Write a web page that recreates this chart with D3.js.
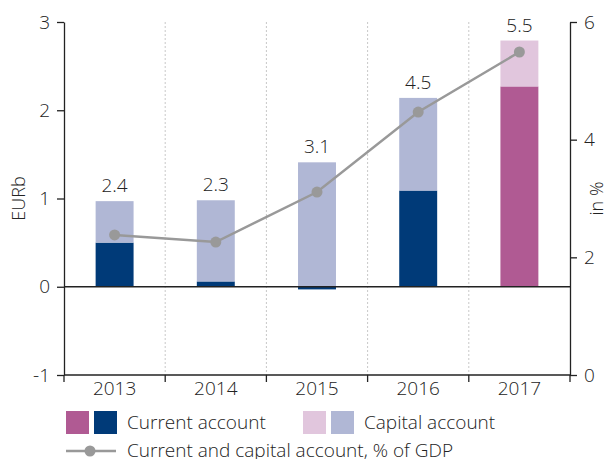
<!DOCTYPE html>
<html>
<head>
<meta charset="utf-8">
<script src="https://cdn.jsdelivr.net/npm/d3@7"></script>
<style>
  body { margin: 0; background: #fff; }
  text { font-family: "Open Sans", "Liberation Sans", Arial, sans-serif; font-weight: 300; fill: #222; }
</style>
</head>
<body>
<div id="chart"></div>
<script>
// data
var years = ["2013", "2014", "2015", "2016", "2017"];
var currentAccount = [0.50, 0.06, -0.03, 1.09, 2.27];
var capitalAccount = [0.47, 0.92, 1.41, 1.05, 0.52];
var pctOfGdp = [2.38, 2.26, 3.11, 4.47, 5.49];
var pctLabels = ["2.4", "2.3", "3.1", "4.5", "5.5"];
var leftTicks = [-1, 0, 1, 2, 3];
var rightTicks = [0, 2, 4, 6];

var width = 610, height = 459;
var margin = { top: 22, right: 40, bottom: 84, left: 64 };
var innerW = width - margin.left - margin.right,
    innerH = height - margin.top - margin.bottom;
var fs = "19px";

var svg = d3.select("#chart")
  .append("svg")
  .attr("width", width)
  .attr("height", height);

var g = svg.append("g")
  .attr("transform", "translate(" + margin.left + "," + margin.top + ")");

var x = d3.scaleBand().domain(years).range([0, innerW]);
var y = d3.scaleLinear().domain([-1, 3]).range([innerH, 0]);
var y2 = d3.scaleLinear().domain([0, 6]).range([innerH, 0]);

var barW = x.bandwidth() * 0.375;

// dotted separators between years
g.selectAll(".sep")
  .data(years.slice(1))
  .enter()
  .append("line")
  .attr("x1", function (d) { return x(d); })
  .attr("x2", function (d) { return x(d); })
  .attr("y1", 0)
  .attr("y2", innerH)
  .attr("stroke", "#c8c8c8")
  .attr("stroke-dasharray", "2,2");

// stacked bars (2017 uses the magenta / pink pair)
var rows = years.map(function (yr, i) {
  return { year: yr, cur: currentAccount[i], cap: capitalAccount[i] };
});
var series = d3.stack().keys(["cur", "cap"]).offset(d3.stackOffsetDiverging)(rows);

var colours = {
  cur: ["#003a78", "#b05a93"],
  cap: ["#b0b7d5", "#e1c6dd"]
};

series.forEach(function (s) {
  g.selectAll(".bar-" + s.key)
    .data(s)
    .enter()
    .append("rect")
    .attr("x", function (d) { return x(d.data.year) + (x.bandwidth() - barW) / 2; })
    .attr("width", barW)
    .attr("y", function (d) { return y(Math.max(d[0], d[1])); })
    .attr("height", function (d) { return Math.abs(y(d[0]) - y(d[1])); })
    .attr("fill", function (d) { return colours[s.key][d.data.year === "2017" ? 1 : 0]; });
});

// labels above bars
g.selectAll(".lbl")
  .data(rows)
  .enter()
  .append("text")
  .attr("x", function (d) { return x(d.year) + x.bandwidth() / 2; })
  .attr("y", function (d) { return y(Math.max(d.cur, 0) + d.cap) - 9; })
  .attr("text-anchor", "middle")
  .style("font-size", fs)
  .text(function (d, i) { return pctLabels[i]; });

// zero line
g.append("line")
  .attr("x1", 0).attr("x2", innerW)
  .attr("y1", y(0)).attr("y2", y(0))
  .attr("stroke", "#222").attr("stroke-width", 1.3);

// % of GDP line
var line = d3.line()
  .x(function (d, i) { return x(years[i]) + x.bandwidth() / 2; })
  .y(function (d) { return y2(d); });

g.append("path")
  .datum(pctOfGdp)
  .attr("d", line)
  .attr("fill", "none")
  .attr("stroke", "#999")
  .attr("stroke-width", 2.5);

g.selectAll(".dot")
  .data(pctOfGdp)
  .enter()
  .append("circle")
  .attr("cx", function (d, i) { return x(years[i]) + x.bandwidth() / 2; })
  .attr("cy", function (d) { return y2(d); })
  .attr("r", 5.5)
  .attr("fill", "#999");

// axes
function styleAxis(sel) {
  sel.selectAll("path, line").attr("stroke", "#222").attr("stroke-width", 1.3);
  sel.selectAll("text").style("font-size", fs).attr("fill", "#222");
}

g.append("g")
  .call(d3.axisLeft(y).tickValues(leftTicks).tickFormat(function (d) { return String(d); })
    .tickSize(7).tickSizeOuter(0).tickPadding(7))
  .call(styleAxis);

g.append("g")
  .attr("transform", "translate(" + innerW + ",0)")
  .call(d3.axisRight(y2).tickValues(rightTicks).tickFormat(function (d) { return String(d); })
    .tickSize(7).tickSizeOuter(0).tickPadding(7))
  .call(styleAxis);

var xAxis = g.append("g")
  .attr("transform", "translate(0," + innerH + ")")
  .call(d3.axisBottom(x).tickSize(0).tickPadding(7))
  .call(styleAxis);
xAxis.select(".domain").remove();

g.append("line")
  .attr("x1", 0).attr("x2", innerW)
  .attr("y1", innerH).attr("y2", innerH)
  .attr("stroke", "#222").attr("stroke-width", 1.3);

// x ticks at the band edges
g.selectAll(".xtick")
  .data(years.concat(["end"]))
  .enter()
  .append("line")
  .attr("x1", function (d, i) { return i * x.bandwidth(); })
  .attr("x2", function (d, i) { return i * x.bandwidth(); })
  .attr("y1", innerH)
  .attr("y2", innerH + 7)
  .attr("stroke", "#222").attr("stroke-width", 1.3);

// axis titles
svg.append("text")
  .attr("transform", "translate(25," + (margin.top + y(1)) + ") rotate(-90)")
  .attr("text-anchor", "middle")
  .style("font-size", "18px")
  .text("EURb");

svg.append("text")
  .attr("transform", "translate(603," + (margin.top + innerH / 2) + ") rotate(-90)")
  .attr("text-anchor", "middle")
  .style("font-size", "18px")
  .text("in %");

// legend
var leg = svg.append("g").attr("transform", "translate(66,411)");
var sq = 23;
leg.append("rect").attr("x", 0).attr("y", 0).attr("width", sq).attr("height", sq).attr("fill", colours.cur[1]);
leg.append("rect").attr("x", 28).attr("y", 0).attr("width", sq).attr("height", sq).attr("fill", colours.cur[0]);
leg.append("text").attr("x", 61).attr("y", sq / 2).attr("dy", "0.33em").style("font-size", fs).text("Current account");
leg.append("rect").attr("x", 237).attr("y", 0).attr("width", sq).attr("height", sq).attr("fill", colours.cap[1]);
leg.append("rect").attr("x", 265).attr("y", 0).attr("width", sq).attr("height", sq).attr("fill", colours.cap[0]);
leg.append("text").attr("x", 298).attr("y", sq / 2).attr("dy", "0.33em").style("font-size", fs).text("Capital account");

leg.append("line").attr("x1", 0).attr("x2", 50).attr("y1", 40).attr("y2", 40)
  .attr("stroke", "#999").attr("stroke-width", 2.5);
leg.append("circle").attr("cx", 24).attr("cy", 40).attr("r", 5.5).attr("fill", "#999");
leg.append("text").attr("x", 61).attr("y", 40).attr("dy", "0.3em").style("font-size", fs)
  .text("Current and capital account, % of GDP");
</script>
</body>
</html>
